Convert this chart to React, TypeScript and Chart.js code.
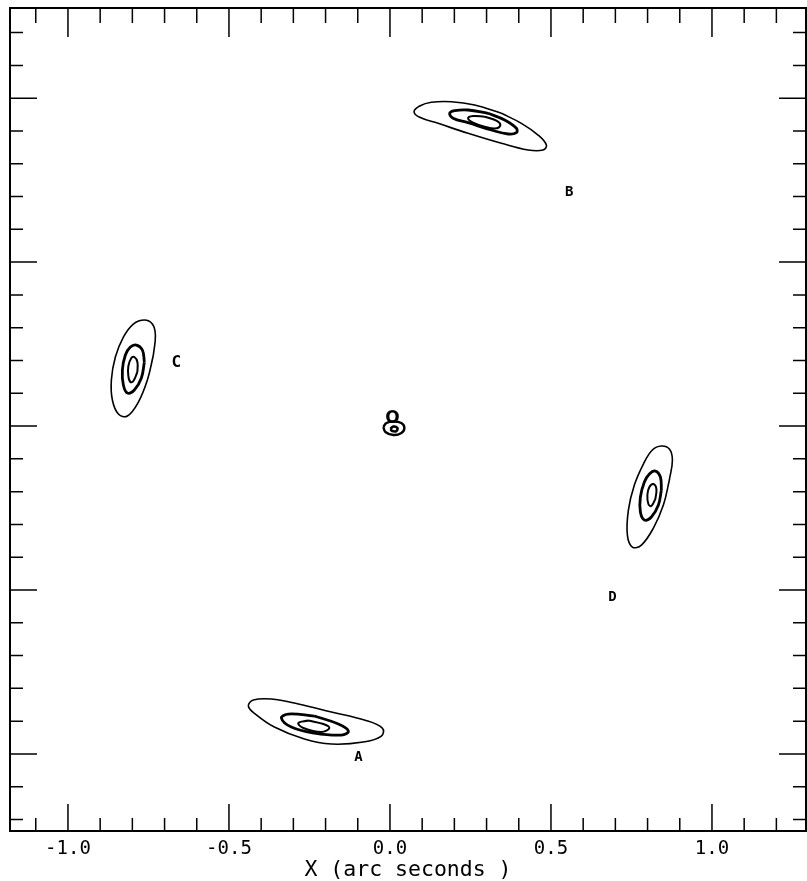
import React, { useEffect, useRef } from "react";
import { Chart, registerables } from "chart.js";

Chart.register(...registerables);

// Axis ranges (arc seconds)
const xRange = [-1.18, 1.292];
const yRange = [-1.235, 1.275];

// Tick positions and labels
const xMajorTicks = [-1.0, -0.5, 0.0, 0.5, 1.0];
const xTickLabels = ["-1.0", "-0.5", "0.0", "0.5", "1.0"];
const xMinorTicks = [-1.1, -0.9, -0.8, -0.7, -0.6, -0.4, -0.3, -0.2, -0.1, 0.1, 0.2, 0.3, 0.4, 0.6, 0.7, 0.8, 0.9, 1.1, 1.2];
const yMajorTicks = [-1.0, -0.5, 0.0, 0.5, 1.0];
const yMinorTicks = [-1.2, -1.1, -0.9, -0.8, -0.7, -0.6, -0.4, -0.3, -0.2, -0.1, 0.1, 0.2, 0.3, 0.4, 0.6, 0.7, 0.8, 0.9, 1.1, 1.2];

// Contours of image A
const contourAOuter = [
  [-0.182, -0.8722], [-0.0795, -0.8966], [-0.0236, -0.921], [-0.0267, -0.9454], [-0.0826, -0.9637],
  [-0.182, -0.9698], [-0.2658, -0.9546], [-0.359, -0.918], [-0.418, -0.8783], [-0.4397, -0.8539],
  [-0.4242, -0.8356], [-0.3683, -0.8326], [-0.2844, -0.8478],
];
const contourAMid = [
  [-0.2348, -0.8844], [-0.1602, -0.9088], [-0.1292, -0.9302], [-0.1509, -0.9424], [-0.2348, -0.9363],
  [-0.3062, -0.918], [-0.3372, -0.8905], [-0.3155, -0.8783],
];
const contourAInner = [
  [-0.2534, -0.8981], [-0.2068, -0.9088], [-0.1882, -0.921], [-0.213, -0.9332], [-0.2689, -0.921], [-0.2844, -0.9058],
];

// Contours of image B
const contourBOuter = [
  [0.346, 0.9538], [0.4081, 0.9233], [0.46, 0.8876], [0.4858, 0.8571], [0.4755, 0.8419],
  [0.4289, 0.8419], [0.346, 0.8623], [0.2426, 0.8928], [0.1494, 0.9233], [0.0923, 0.9416],
  [0.0749, 0.9587], [0.0923, 0.9761], [0.1286, 0.9874], [0.1907, 0.9892], [0.2631, 0.9791],
];
const contourBMid = [
  [0.3047, 0.9538], [0.3562, 0.9334], [0.3926, 0.9081], [0.3926, 0.8947], [0.3668, 0.8907],
  [0.3149, 0.9029], [0.2426, 0.9252], [0.196, 0.9386], [0.1854, 0.9538], [0.201, 0.9618], [0.2426, 0.9639],
];
const contourBInner = [
  [0.2942, 0.9435], [0.3305, 0.9313], [0.3429, 0.9181], [0.3305, 0.9081], [0.2942, 0.913],
  [0.2581, 0.9252], [0.2426, 0.9386], [0.2581, 0.9456],
];

// Contours of image C
const contourCOuter = [
  [-0.7347, 0.2166], [-0.7534, 0.1404], [-0.7813, 0.0733], [-0.8155, 0.0306], [-0.8434, 0.0367],
  [-0.8621, 0.0794], [-0.8652, 0.1404], [-0.8528, 0.2105], [-0.8279, 0.2715], [-0.7969, 0.3112],
  [-0.7627, 0.3234], [-0.7379, 0.3112], [-0.7285, 0.2776],
];
const contourCMid = [
  [-0.7627, 0.1953], [-0.772, 0.1465], [-0.7938, 0.1099], [-0.8155, 0.1007], [-0.8279, 0.1251],
  [-0.831, 0.1709], [-0.8217, 0.2166], [-0.8062, 0.241], [-0.7875, 0.2471], [-0.7689, 0.2319],
];
const contourCInner = [
  [-0.7844, 0.1648], [-0.7969, 0.1373], [-0.8062, 0.1343], [-0.8124, 0.1526], [-0.8124, 0.1831],
  [-0.8031, 0.2075], [-0.7938, 0.2105], [-0.7844, 0.1953],
];

// Contours of image D
const contourDOuter = [
  [0.8677, -0.1646], [0.8491, -0.2409], [0.8181, -0.311], [0.7808, -0.3629], [0.7528, -0.369],
  [0.7373, -0.3324], [0.7404, -0.2561], [0.759, -0.1799], [0.787, -0.1158], [0.8149, -0.0731],
  [0.8429, -0.0609], [0.8677, -0.0701], [0.8771, -0.1036],
];
const contourDMid = [
  [0.8429, -0.1951], [0.8336, -0.2409], [0.8118, -0.2775], [0.7901, -0.2866], [0.7777, -0.2622],
  [0.7777, -0.2165], [0.7901, -0.1707], [0.8056, -0.1463], [0.8242, -0.1372], [0.8398, -0.1555],
];
const contourDInner = [
  [0.8242, -0.2226], [0.8118, -0.2439], [0.8025, -0.2378], [0.7994, -0.2104], [0.8056, -0.186],
  [0.8181, -0.1768], [0.8274, -0.1921],
];

// Central galaxy contours
const contourGOuter = [
  [-0.0205, -0.003], [-0.011, 0.0092], [0.0106, 0.0138], [0.0354, 0.0092], [0.0448, -0.006],
  [0.0354, -0.0213], [0.0106, -0.0274], [-0.0142, -0.0182],
];
const contourGInner = [
  [0.0013, -0.0091], [0.0106, -0.0014], [0.023, -0.006], [0.0199, -0.0152], [0.0075, -0.0152],
];

// Image labels
const labelTexts = ["A", "B", "C", "D"];
const labelX = [-0.0981, 0.557, -0.6633, 0.6907];
const labelY = [-1.0095, 0.7138, 0.1922, -0.5215];
const labelSizes = [14, 14, 16, 14];

// Central lens galaxy label
const centerLabel = "O";
const centerLabelX = 0.0075;
const centerLabelY = 0.0214;

const xTitle = "X (arc seconds )";

const FONT = "'DejaVu Sans Mono', 'Liberation Mono', monospace";

function closed(pts: number[][]) {
  const arr = pts.map(([x, y]) => ({ x, y }));
  arr.push({ x: pts[0][0], y: pts[0][1] });
  return arr;
}

const contourSets: { pts: number[][]; w: number }[] = [
  { pts: contourAOuter, w: 1.6 }, { pts: contourAMid, w: 2.8 }, { pts: contourAInner, w: 2 },
  { pts: contourBOuter, w: 1.6 }, { pts: contourBMid, w: 2.8 }, { pts: contourBInner, w: 2 },
  { pts: contourCOuter, w: 1.6 }, { pts: contourCMid, w: 2.8 }, { pts: contourCInner, w: 2 },
  { pts: contourDOuter, w: 1.6 }, { pts: contourDMid, w: 2.8 }, { pts: contourDInner, w: 2 },
  { pts: contourGOuter, w: 2.4 }, { pts: contourGInner, w: 2.6 },
];

const framePlugin = {
  id: "framePlugin",
  afterDraw(chart: any) {
    const { ctx, chartArea, scales } = chart;
    const xs = scales.x;
    const ys = scales.y;
    const { left, right, top, bottom } = chartArea;
    ctx.save();
    ctx.strokeStyle = "#000";
    ctx.lineWidth = 2;
    ctx.strokeRect(left, top, right - left, bottom - top);
    const major = 27;
    const minor = 13;
    ctx.lineWidth = 1.5;
    const drawX = (v: number, len: number) => {
      const px = xs.getPixelForValue(v);
      ctx.beginPath();
      ctx.moveTo(px, bottom);
      ctx.lineTo(px, bottom - len);
      ctx.moveTo(px, top);
      ctx.lineTo(px, top + len + 2);
      ctx.stroke();
    };
    const drawY = (v: number, len: number) => {
      const py = ys.getPixelForValue(v);
      ctx.beginPath();
      ctx.moveTo(left, py);
      ctx.lineTo(left + len, py);
      ctx.moveTo(right, py);
      ctx.lineTo(right - len, py);
      ctx.stroke();
    };
    xMajorTicks.forEach((v) => drawX(v, major));
    xMinorTicks.forEach((v) => drawX(v, minor));
    yMajorTicks.forEach((v) => drawY(v, major));
    yMinorTicks.forEach((v) => drawY(v, minor));

    ctx.fillStyle = "#000";
    ctx.textAlign = "center";
    ctx.textBaseline = "middle";
    labelTexts.forEach((t, i) => {
      ctx.font = `bold ${labelSizes[i]}px ${FONT}`;
      ctx.fillText(t, xs.getPixelForValue(labelX[i]), ys.getPixelForValue(labelY[i]));
    });
    ctx.font = `bold 17px 'DejaVu Sans', sans-serif`;
    ctx.fillText(centerLabel, xs.getPixelForValue(centerLabelX), ys.getPixelForValue(centerLabelY));
    ctx.restore();
  },
};

export default function App() {
  const ref = useRef<HTMLCanvasElement | null>(null);
  useEffect(() => {
    if (!ref.current) return;
    const chart = new Chart(ref.current, {
      type: "scatter",
      data: {
        datasets: contourSets.map((c) => ({
          data: closed(c.pts),
          showLine: true,
          borderColor: "#000",
          borderWidth: c.w,
          pointRadius: 0,
          pointHoverRadius: 0,
          tension: 0.4,
          fill: false,
        })),
      },
      options: {
        animation: false,
        responsive: false,
        devicePixelRatio: 1,
        layout: { padding: { left: 10, right: 1, top: 8, bottom: 0 } },
        plugins: { legend: { display: false }, tooltip: { enabled: false } },
        scales: {
          x: {
            type: "linear",
            min: xRange[0],
            max: xRange[1],
            grid: { display: false, drawTicks: false },
            border: { display: false },
            afterBuildTicks: (scale: any) => {
              scale.ticks = xMajorTicks.map((v) => ({ value: v }));
            },
            afterFit: (scale: any) => {
              scale.height = 50;
            },
            ticks: {
              color: "#000",
              padding: 7,
              font: { family: FONT, size: 19 },
              callback: (v: any) => {
                const i = xMajorTicks.findIndex((t) => Math.abs(t - Number(v)) < 1e-6);
                return i >= 0 ? xTickLabels[i] : "";
              },
            },
            title: {
              display: true,
              text: xTitle,
              color: "#000",
              font: { family: FONT, size: 21.5 },
              padding: { top: 0, bottom: -2 },
            },
          },
          y: {
            type: "linear",
            display: false,
            min: yRange[0],
            max: yRange[1],
          },
        },
      },
      plugins: [framePlugin],
    });
    return () => chart.destroy();
  }, []);
  return (
    <canvas
      ref={ref}
      width={807}
      height={881}
      style={{ position: "absolute", left: 0, top: 0, width: 807, height: 881, display: "block", background: "#fff" }}
    />
  );
}
